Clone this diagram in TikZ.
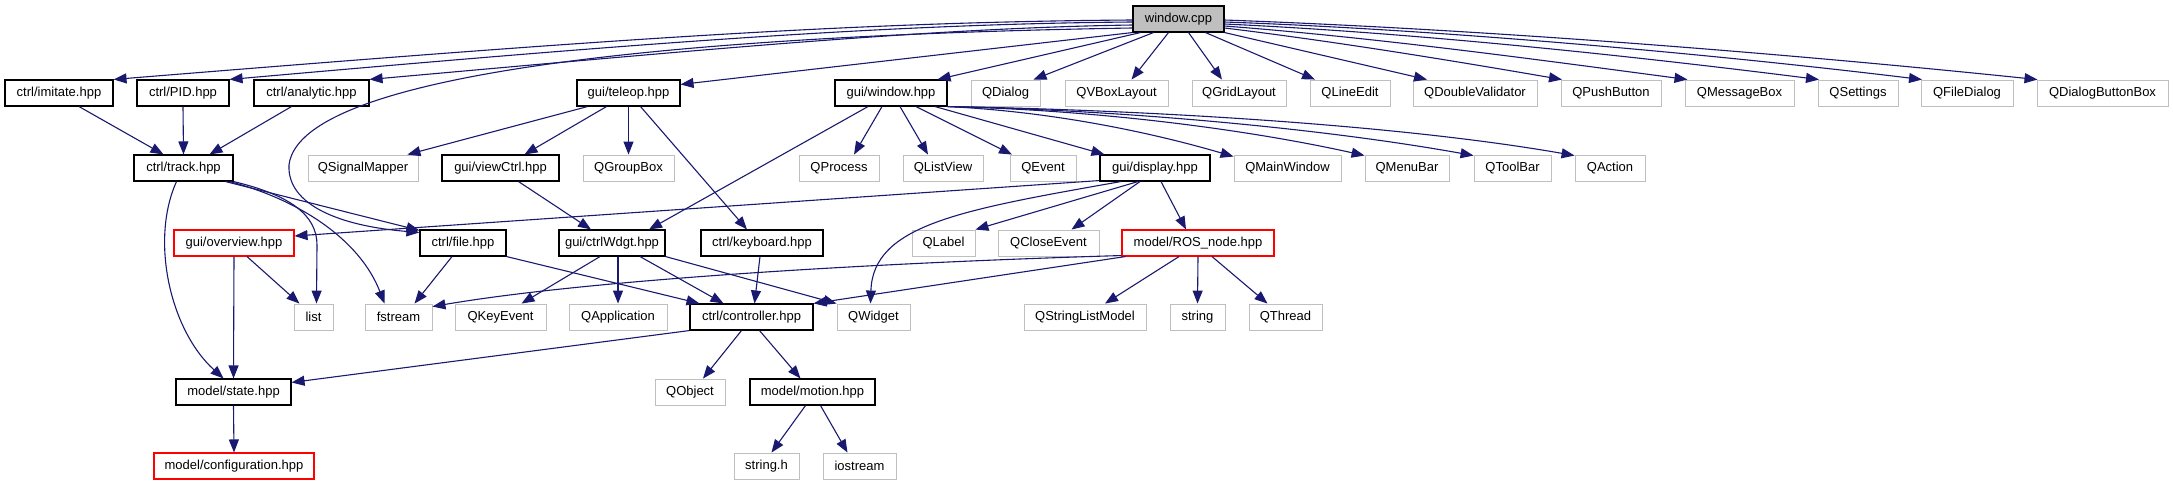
\documentclass[tikz,border=0pt]{standalone}
\usepackage{fontspec}
\setmainfont{Liberation Sans}
\usetikzlibrary{arrows.meta}
\definecolor{edgeblue}{HTML}{191970}
\definecolor{extgray}{HTML}{BFBFBF}
\definecolor{redborder}{HTML}{FF0000}
\begin{document}
\begin{tikzpicture}[x=1pt,y=-1pt,
  nd/.style={rectangle, minimum height=26pt, inner sep=0pt, fill=white, text=black, font=\fontsize{13}{15}\selectfont},
  doc/.style={nd, draw=black, line width=1.1pt},
  ext/.style={nd, draw=extgray, line width=0.9pt},
  redbox/.style={nd, draw=redborder, line width=1.1pt},
  dep/.style={draw=edgeblue, line width=1.1pt, -{Triangle[length=13pt,width=10pt]}}]
\useasboundingbox (0,0) rectangle (2173,485);
% row 1
\node[doc, fill=extgray, minimum width=91pt] (win) at (1178.5,19) {window.cpp};
% row 2
\node[doc, minimum width=108pt] (imitate) at (59,93) {ctrl/imitate.hpp};
\node[doc, minimum width=92pt] (pid) at (183,93) {ctrl/PID.hpp};
\node[doc, minimum width=115pt] (analytic) at (311.5,93) {ctrl/analytic.hpp};
\node[doc, minimum width=103pt] (teleop) at (628.5,93) {gui/teleop.hpp};
\node[doc, minimum width=112pt] (guiwin) at (891,93) {gui/window.hpp};
\node[ext, minimum width=69pt] (qdialog) at (1005.5,93) {QDialog};
\node[ext, minimum width=103pt] (qvbox) at (1116.5,93) {QVBoxLayout};
\node[ext, minimum width=94pt] (qgrid) at (1239,93) {QGridLayout};
\node[ext, minimum width=80pt] (qlineedit) at (1350,93) {QLineEdit};
\node[ext, minimum width=124pt] (qdoubleval) at (1475,93) {QDoubleValidator};
\node[ext, minimum width=100pt] (qpush) at (1611,93) {QPushButton};
\node[ext, minimum width=109pt] (qmsg) at (1739.5,93) {QMessageBox};
\node[ext, minimum width=80pt] (qsettings) at (1858,93) {QSettings};
\node[ext, minimum width=92pt] (qfiledlg) at (1967,93) {QFileDialog};
\node[ext, minimum width=131pt] (qdlgbb) at (2102.5,93) {QDialogButtonBox};
% row 3
\node[doc, minimum width=99pt] (track) at (183.5,168) {ctrl/track.hpp};
\node[ext, minimum width=110pt] (qsigmap) at (363,168) {QSignalMapper};
\node[doc, minimum width=117pt] (viewctrl) at (500.5,168) {gui/viewCtrl.hpp};
\node[ext, minimum width=91pt] (qgroupbox) at (628.5,168) {QGroupBox};
\node[ext, minimum width=80pt] (qprocess) at (839,168) {QProcess};
\node[ext, minimum width=80pt] (qlistview) at (943,168) {QListView};
\node[ext, minimum width=66pt] (qevent) at (1043,168) {QEvent};
\node[doc, minimum width=110pt] (display) at (1155,168) {gui/display.hpp};
\node[ext, minimum width=107pt] (qmainwin) at (1287.5,168) {QMainWindow};
\node[ext, minimum width=84pt] (qmenubar) at (1407,168) {QMenuBar};
\node[ext, minimum width=77pt] (qtoolbar) at (1512.5,168) {QToolBar};
\node[ext, minimum width=70pt] (qaction) at (1610,168) {QAction};
% row 4
\node[redbox, minimum width=120pt] (overview) at (234,243) {gui/overview.hpp};
\node[doc, minimum width=86pt] (file) at (463,243) {ctrl/file.hpp};
\node[doc, minimum width=106pt] (ctrlwdgt) at (612,243) {gui/ctrlWdgt.hpp};
\node[doc, minimum width=122pt] (keyboard) at (762,243) {ctrl/keyboard.hpp};
\node[ext, minimum width=63pt] (qlabel) at (943.5,243) {QLabel};
\node[ext, minimum width=101pt] (qcloseevent) at (1048.5,243) {QCloseEvent};
\node[redbox, minimum width=152pt] (rosnode) at (1198,243) {model/ROS\_node.hpp};
% row 5
\node[ext, minimum width=39pt] (list) at (313.5,317) {list};
\node[ext, minimum width=67pt] (fstream) at (398.5,317) {fstream};
\node[ext, minimum width=91pt] (qkeyevent) at (500.5,317) {QKeyEvent};
\node[ext, minimum width=98pt] (qapp) at (618,317) {QApplication};
\node[doc, minimum width=123pt] (controller) at (751.5,317) {ctrl/controller.hpp};
\node[ext, minimum width=73pt] (qwidget) at (873.5,317) {QWidget};
\node[ext, minimum width=122pt] (qslm) at (1085,317) {QStringListModel};
\node[ext, minimum width=55pt] (string) at (1197.5,317) {string};
\node[ext, minimum width=73pt] (qthread) at (1285.5,317) {QThread};
% row 6
\node[doc, minimum width=115pt] (state) at (233.5,392) {model/state.hpp};
\node[ext, minimum width=70pt] (qobject) at (690,392) {QObject};
\node[doc, minimum width=125pt] (motion) at (812.5,392) {model/motion.hpp};
% row 7
\node[redbox, minimum width=160pt] (config) at (234,466) {model/configuration.hpp};
\node[ext, minimum width=65pt] (stringh) at (766.5,466) {string.h};
\node[ext, minimum width=73pt] (iostream) at (859.5,466) {iostream};

% edges from window.cpp
\draw[dep] ([yshift=-1pt]win.west) .. controls (850,22) and (600,40) .. (imitate.north east);
\draw[dep] ([yshift=-3pt]win.west) .. controls (880,24) and (620,45) .. (pid.north east);
\draw[dep] ([yshift=-6pt]win.west) .. controls (930,28) and (700,50) .. (analytic.north east);
\draw[dep] ([yshift=-9pt]win.west) .. controls (700,35) and (300,70) .. (289,165) .. controls (287,205) and (340,226) .. ([yshift=-3pt]file.north west);
\draw[dep] (win.south west) -- ([yshift=-5pt]teleop.north east);
\draw[dep] ([xshift=-38pt]win.south) -- ([xshift=-10pt]guiwin.north east);
\draw[dep] ([xshift=-25pt]win.south) -- ([xshift=28pt]qdialog.north);
\draw[dep] ([xshift=-10pt]win.south) -- ([xshift=15pt]qvbox.north);
\draw[dep] ([xshift=10pt]win.south) -- ([xshift=-17pt]qgrid.north);
\draw[dep] ([xshift=27pt]win.south) -- ([xshift=-35pt]qlineedit.north);
\draw[dep] (win.south east) -- ([xshift=-48pt]qdoubleval.north);
\draw[dep] ([yshift=-9pt]win.east) .. controls (1340,42) and (1460,62) .. ([xshift=-49pt]qpush.north);
\draw[dep] ([yshift=-7pt]win.east) .. controls (1380,38) and (1540,60) .. ([xshift=-52pt]qmsg.north);
\draw[dep] ([yshift=-5pt]win.east) .. controls (1420,33) and (1640,57) .. ([xshift=-39pt]qsettings.north);
\draw[dep] ([yshift=-3pt]win.east) .. controls (1450,30) and (1720,55) .. ([xshift=-45pt]qfiledlg.north);
\draw[dep] ([yshift=-1pt]win.east) .. controls (1500,30) and (1800,55) .. ([xshift=-65pt]qdlgbb.north);
% row 2 -> 3
\draw[dep] ([xshift=20pt]imitate.south) -- ([xshift=-20pt]track.north);
\draw[dep] (pid.south) -- (track.north);
\draw[dep] ([xshift=-20pt]analytic.south) -- ([xshift=26pt]track.north);
\draw[dep] ([xshift=-41pt]teleop.south) -- ([xshift=-11pt]qsigmap.north east);
\draw[dep] ([xshift=-22pt]teleop.south) -- ([xshift=24pt]viewctrl.north);
\draw[dep] (teleop.south) -- (qgroupbox.north);
\draw[dep] ([xshift=12pt]teleop.south) -- ([xshift=-15pt]keyboard.north);
\draw[dep] ([xshift=-23pt]guiwin.south) -- ([xshift=37pt]ctrlwdgt.north);
\draw[dep] ([xshift=-9pt]guiwin.south) -- ([xshift=15pt]qprocess.north);
\draw[dep] ([xshift=9pt]guiwin.south) -- ([xshift=-15pt]qlistview.north);
\draw[dep] ([xshift=25pt]guiwin.south) -- ([xshift=-31pt]qevent.north);
\draw[dep] ([xshift=44pt]guiwin.south) -- ([xshift=5pt]display.north west);
\draw[dep] (guiwin.south east) .. controls (1060,112) and (1160,135) .. ([yshift=-2pt]qmainwin.north west);
\draw[dep] (guiwin.south east) .. controls (1100,110) and (1250,130) .. ([yshift=-1pt]qmenubar.north west);
\draw[dep] (guiwin.south east) .. controls (1120,110) and (1320,128) .. ([yshift=-1pt]qtoolbar.north west);
\draw[dep] (guiwin.south east) .. controls (1150,110) and (1400,125) .. ([yshift=-1pt]qaction.north west);
% row 3 -> 4
\draw[dep] ([xshift=42pt]track.south) -- ([yshift=-1pt]file.north west);
\draw[dep] (track.south east) .. controls (290,195) and (317,215) .. (317,245) -- ([xshift=3pt]list.north);
\draw[dep] ([xshift=-4pt]track.south east) .. controls (300,200) and (360,240) .. ([xshift=-14pt]fstream.north);
\draw[dep] ([xshift=-7pt]track.south) .. controls (150,240) and (170,330) .. ([xshift=-10pt]state.north);
\draw[dep] ([xshift=18pt]viewctrl.south) -- ([xshift=-21pt]ctrlwdgt.north);
\draw[dep] ([yshift=1pt]display.south west) -- ([yshift=7pt]overview.east);
\draw[dep] ([xshift=-34pt]display.south) .. controls (960,210) and (873,225) .. ([xshift=-3pt]qwidget.north);
\draw[dep] ([xshift=-17pt]display.south) -- (qlabel.north east);
\draw[dep] ([xshift=-15pt]display.south) -- ([xshift=23pt]qcloseevent.north);
\draw[dep] ([xshift=6pt]display.south) -- ([xshift=-12pt]rosnode.north);
% row 4 -> 5
\draw[dep] ([xshift=13pt]overview.south) -- ([xshift=-14pt]list.north);
\draw[dep] (overview.south) -- (state.north);
\draw[dep] ([xshift=-11pt]file.south) -- ([xshift=16pt]fstream.north);
\draw[dep] (file.south east) -- ([xshift=-52pt]controller.north);
\draw[dep] ([xshift=-12pt]ctrlwdgt.south) -- ([xshift=21pt]qkeyevent.north);
\draw[dep] ([xshift=6pt]ctrlwdgt.south) -- (qapp.north);
\draw[dep] ([xshift=28pt]ctrlwdgt.south) -- ([xshift=-28pt]controller.north);
\draw[dep] (ctrlwdgt.south east) -- (qwidget.north west);
\draw[dep] ([xshift=-2pt]keyboard.south) -- ([xshift=3pt]controller.north);
\draw[dep] ([yshift=1pt]rosnode.south west) .. controls (900,262) and (600,278) .. ([yshift=-3pt]fstream.north east);
\draw[dep] ([xshift=4pt]rosnode.south west) -- (controller.north east);
\draw[dep] ([xshift=-19pt]rosnode.south) -- ([xshift=20pt]qslm.north);
\draw[dep] (rosnode.south) -- (string.north);
\draw[dep] ([xshift=14pt]rosnode.south) -- ([xshift=-18pt]qthread.north);
% row 5 -> 6
\draw[dep] (controller.south west) -- ([yshift=-4pt]state.north east);
\draw[dep] ([xshift=-10pt]controller.south) -- ([xshift=13pt]qobject.north);
\draw[dep] ([xshift=8pt]controller.south) -- ([xshift=-12pt]motion.north);
% row 6 -> 7
\draw[dep] (state.south) -- (config.north);
\draw[dep] ([xshift=-7pt]motion.south) -- ([xshift=5pt]stringh.north);
\draw[dep] ([xshift=8pt]motion.south) -- ([xshift=-12pt]iostream.north);
\end{tikzpicture}
\end{document}
